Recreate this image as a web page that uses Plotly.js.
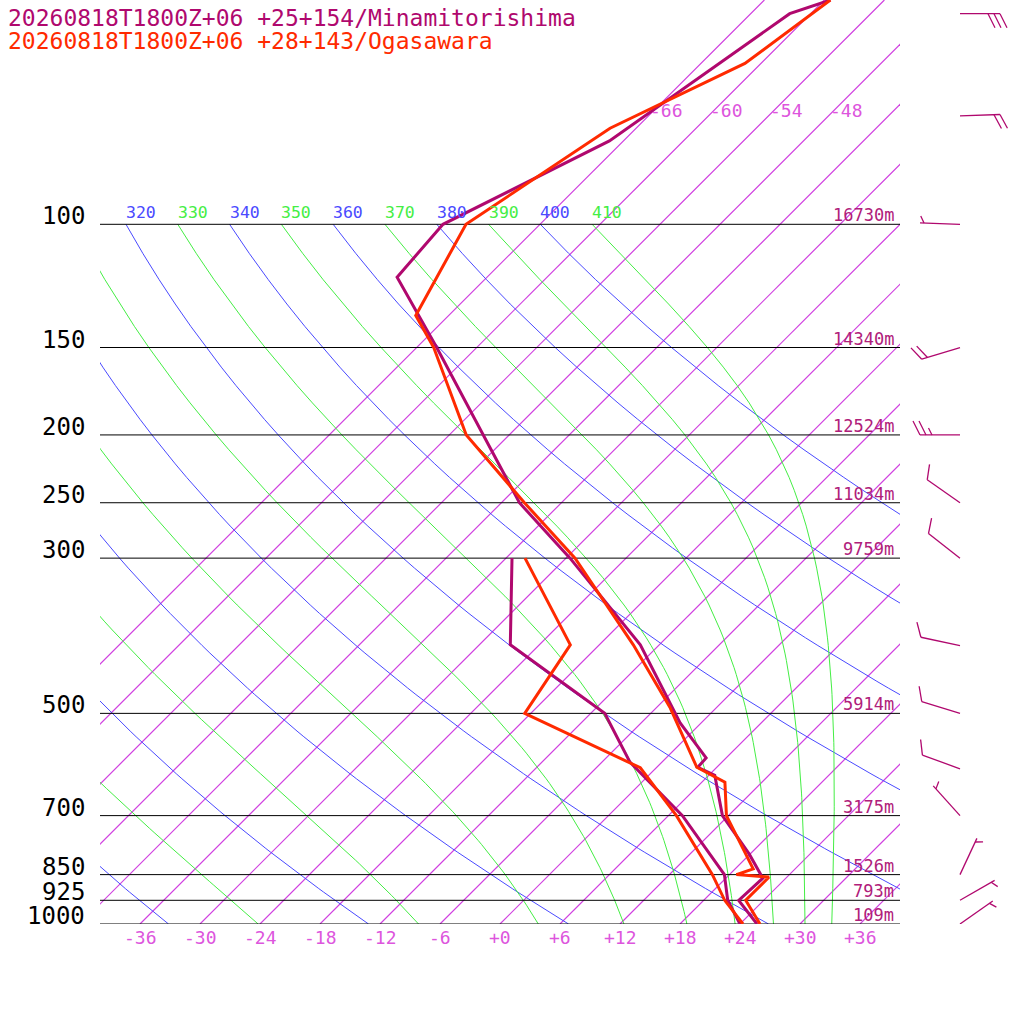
<!DOCTYPE html>
<html><head><meta charset="utf-8">
<script src="https://cdn.plot.ly/plotly-3.0.1.min.js"></script>
<style>body{margin:0;background:#fff}#c{width:1024px;height:1024px}</style>
</head><body><div id="c"></div>
<script>
// ---- data ----
const titleA = "20260818T1800Z+06 +25+154/Minamitorishima";
const titleB = "20260818T1800Z+06 +28+143/Ogasawara";
const colA = "#b0086e", colB = "#ff2a00";

const tempA_p = [1000,925,860,794,700,613,597,579,516,399,300,250,200,150,119,100,76,50,47.8];
const tempA_T = [25.7,21.5,21.7,17.9,11.4,6.6,4.1,4.0,-2.1,-13.9,-29.6,-40.2,-50.6,-64.0,-75.0,-75.7,-67.4,-62.1,-59.4];
const dewA_p = [1000,925,850,700,587,500,399,300];
const dewA_T = [24.0,20.4,17.5,7.4,-3.2,-10.6,-26.9,-35.4];

const tempB_p = [1000,925,857,850,834,700,627,597,490,399,300,250,200,150,135,100,72.9,58.9,47.8];
const tempB_T = [26.0,22.2,22.2,18.7,19.8,11.8,8.3,4.0,-4.7,-14.6,-29.1,-39.7,-52.3,-64.3,-69.3,-73.4,-68.6,-61.6,-59.4];
const dewB_p = [1000,925,850,700,598,544,500,399,300];
const dewB_T = [24.3,20.1,16.3,6.8,-1.6,-10.5,-18.6,-20.9,-34.1];

const levels = [100,150,200,250,300,500,700,850,925,1000];
const heights = ["16730m","14340m","12524m","11034m","9759m","5914m","3175m","1526m","793m","109m"];
const tempTicks = [-36,-30,-24,-18,-12,-6,0,6,12,18,24,30,36];
const topIsoLabels = [-66,-60,-54,-48];
const isotherms = [-66,-60,-54,-48,-42,-36,-30,-24,-18,-12,-6,0,6,12,18,24,30,36];
const dryTheta = [200,220,240,260,280,300,320,340,360,380,400];
const moistThetaE = [190,210,230,250,270,290,310,330,350,370,390,410];
const thetaLabels = [310,320,330,340,350,360,370,380,390,400,410];

const windP = [50,70,100,150,200,250,300,400,500,600,700,850,925,1000];
const windDir = [90,88,272,253,270,305,308,282,287,290,318,25,60,55];
const windKt = [30,20,5,20,25,10,10,10,10,10,5,5,5,5];

// ---- geometry helpers (skew-T coordinate) ----
const PTOP = 47.8, SK = 30.4;
const X = (T,p) => T + SK*Math.log(1000/p);
const mono = "DejaVu Sans Mono, monospace";

const traces = [];
function line(xs, ys, color, width, axis){
  traces.push({type:'scatter', mode:'lines', x:xs, y:ys, line:{color, width},
    hoverinfo:'skip', showlegend:false, xaxis: axis||'x', yaxis:'y'});
}
// isotherms
isotherms.forEach(T => line([X(T,1000),X(T,PTOP)],[1000,PTOP],'#d040e0',1.2));
// dry adiabats
const pgrid=[]; for(let p=1000;p>=100;p-=10) pgrid.push(p);
dryTheta.forEach(th => {
  const xs = pgrid.map(p => X(th*Math.pow(p/1000,0.2857)-273.15,p));
  line(xs,pgrid,'#4a4aff',1);
});
// moist (pseudo) adiabats, integrated downward from 100 hPa
function es(Tc){return 6.112*Math.exp(17.67*Tc/(Tc+243.5));}
moistThetaE.forEach(te => {
  let T = te*Math.pow(0.1,0.2857); const xs=[],ys=[];
  for(let p=100;p<=1000;p+=1){
    if(p%10===0){xs.push(X(T-273.15,p)); ys.push(p);}
    const e=es(T-273.15), rs=0.622*e/(p-e);
    const Rd=287,cp=1004,Lv=2.5e6;
    const dTdp=(Rd*T+Lv*rs)/(p*(cp+Lv*Lv*rs*0.622/(Rd*T*T)));
    T+=dTdp*1;
  }
  line(xs,ys,'#44ee44',1);
});
// pressure lines
levels.forEach(p => line([-40,40],[p,p],'#000',1));
// profiles
line(dewA_T.map((t,i)=>X(t,dewA_p[i])),dewA_p,colA,3);
line(tempA_T.map((t,i)=>X(t,tempA_p[i])),tempA_p,colA,3);
line(dewB_T.map((t,i)=>X(t,dewB_p[i])),dewB_p,colB,3);
line(tempB_T.map((t,i)=>X(t,tempB_p[i])),tempB_p,colB,3);

// wind barbs (x2 axis in pixels, y on pressure axis)
const bx=[],by=[];
windP.forEach((p,i)=>{
  const d=windDir[i]*Math.PI/180, ux=Math.sin(d), uy=-Math.cos(d);
  const L=40, pt=(px,py)=>[960+px, p*Math.exp(py/304)];
  const seg=(a,b)=>{bx.push(a[0],b[0],null); by.push(a[1],b[1],null);};
  seg(pt(0,0),pt(ux*L,uy*L));
  let s=windKt[i], k=0;
  const fx=0.5*ux-uy, fy=0.5*uy+ux;
  while(s>=10){const o=L-k*6; seg(pt(ux*o,uy*o),pt(ux*o+fx*14,uy*o+fy*14)); s-=10;k++;}
  if(s>=5){const o=L-k*6-(k===0?4:0); seg(pt(ux*o,uy*o),pt(ux*o+fx*7,uy*o+fy*7));}
});
traces.push({type:'scatter',mode:'lines',x:bx,y:by,line:{color:colA,width:1.3},
  hoverinfo:'skip',showlegend:false,xaxis:'x2',yaxis:'y',connectgaps:false});

// ---- annotations ----
const ann=[];
const L10=Math.log10;
levels.forEach((p,i)=>{
  ann.push({xref:'paper',x:87/1024,xanchor:'right',yref:'y',y:L10(p),yanchor:'middle',yshift:8,
    text:String(p),showarrow:false,font:{family:mono,size:24,color:'#000'}});
  ann.push({xref:'x',x:39.6,xanchor:'right',yref:'y',y:L10(p),yanchor:'bottom',yshift:-3,
    text:heights[i],showarrow:false,font:{family:mono,size:17,color:'#b0207a'}});
});
tempTicks.forEach(t=>ann.push({xref:'x',x:t,yref:'y',y:3,yanchor:'top',yshift:-1,
  text:(t>=0?'+':'')+t,showarrow:false,font:{family:mono,size:18,color:'#dd55dd'}}));
topIsoLabels.forEach(t=>ann.push({xref:'x',x:X(t,68.7),xanchor:'left',xshift:-6,yref:'y',y:L10(68.7),
  yanchor:'middle',text:String(t),showarrow:false,font:{family:mono,size:18,color:'#dd55dd'}}));
thetaLabels.forEach(th=>{
  const T=th*Math.pow(0.1,0.2857)-273.15;
  ann.push({xref:'x',x:X(T,100),xanchor:'left',xshift:-2,yref:'y',y:2,yanchor:'bottom',yshift:0,
    text:String(th),showarrow:false,font:{family:mono,size:16.5,color:(th%20===0)?'#4a4aff':'#44ee44'}});
});
ann.push({xref:'paper',x:6/1024,xanchor:'left',yref:'paper',y:1-18/1024,yanchor:'middle',text:titleA,
  showarrow:false,font:{family:mono,size:23,color:colA}});
ann.push({xref:'paper',x:6/1024,xanchor:'left',yref:'paper',y:1-41/1024,yanchor:'middle',text:titleB,
  showarrow:false,font:{family:mono,size:23,color:colB}});

const layout={
  width:1024,height:1024,margin:{l:0,r:0,t:0,b:0},paper_bgcolor:'#fff',plot_bgcolor:'rgba(0,0,0,0)',
  showlegend:false,
  xaxis:{domain:[100/1024,900/1024],range:[-40,40],visible:false,fixedrange:true},
  xaxis2:{domain:[900/1024,1],range:[900,1024],visible:false,anchor:'y'},
  yaxis:{domain:[100/1024,1],type:'log',range:[3,L10(PTOP)],visible:false},
  annotations:ann
};
Plotly.newPlot('c',traces,layout,{staticPlot:true});
</script></body></html>
